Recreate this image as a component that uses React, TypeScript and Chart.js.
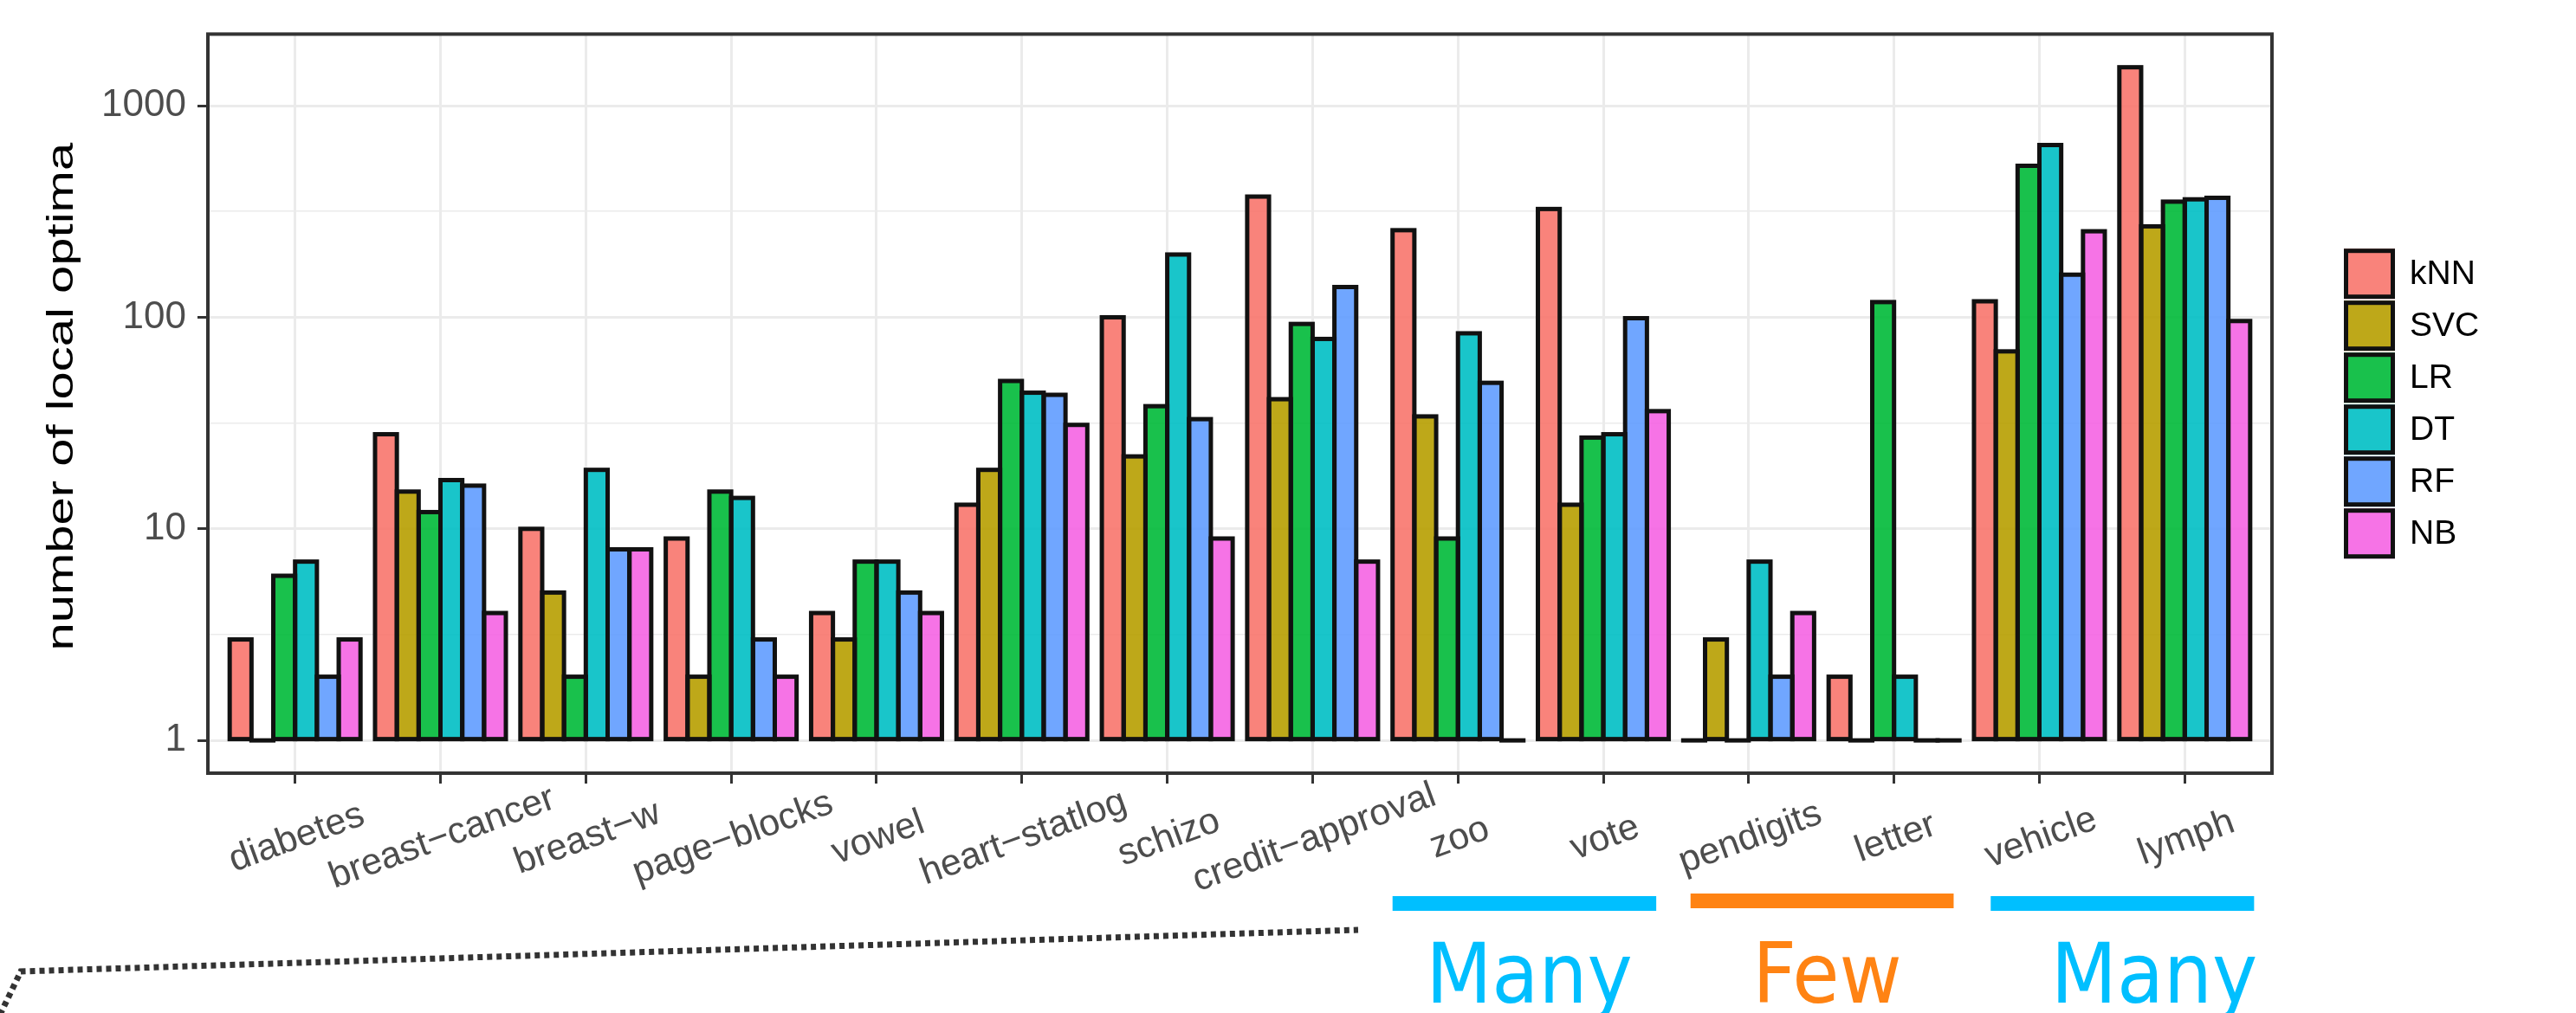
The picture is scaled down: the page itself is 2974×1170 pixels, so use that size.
import React, { useEffect, useRef } from 'react';
import { Chart, registerables } from 'chart.js';

Chart.register(...registerables);

// ---------- data ----------
const categories = [
  'diabetes', 'breast-cancer', 'breast-w', 'page-blocks', 'vowel', 'heart-statlog', 'schizo',
  'credit-approval', 'zoo', 'vote', 'pendigits', 'letter', 'vehicle', 'lymph',
];
const seriesNames = ['kNN', 'SVC', 'LR', 'DT', 'RF', 'NB'];
const kNN = [3, 28, 10, 9, 4, 13, 100, 372, 258, 325, 1, 2, 119, 1520];
const SVC = [1, 15, 5, 2, 3, 19, 22, 41, 34, 13, 3, 1, 69, 269];
const LR = [6, 12, 2, 15, 7, 50, 38, 93, 9, 27, 1, 118, 520, 352];
const DT = [7, 17, 19, 14, 7, 44, 198, 79, 84, 28, 7, 2, 652, 361];
const RF = [2, 16, 8, 3, 5, 43, 33, 139, 49, 99, 2, 1, 159, 367];
const NB = [3, 4, 8, 2, 4, 31, 9, 7, 1, 36, 4, 1, 255, 96];
const seriesValues = [kNN, SVC, LR, DT, RF, NB];
const yMajorTicks = [1, 10, 100, 1000];
const yMinorTicks = [3.1623, 31.623, 316.23];
const yAxisTitle = 'number of local optima';
const groupLabels = ['Many', 'Few', 'Many'];
const groupFrom = [7.55, 9.6, 11.665];
const groupTo = [9.364, 11.41, 13.477];
const groupCenter = [8.49, 10.54, 12.79];

// ---------- styles ----------
const palette = ['#F8766D', '#B79F00', '#00BA38', '#00BFC4', '#619CFF', '#F564E3'];
const groupColors = ['#00BFFF', '#FF8313', '#00BFFF'];
const FONT = '"Liberation Sans", Arial, Helvetica, sans-serif';
const BAR_BORDER = '#111111';
const BAR_LW = 5;

function withAlpha(hex: string, a: number) {
  const r = parseInt(hex.slice(1, 3), 16);
  const g = parseInt(hex.slice(3, 5), 16);
  const b = parseInt(hex.slice(5, 7), 16);
  return `rgba(${r},${g},${b},${a})`;
}

const decorPlugin = {
  id: 'ggDecor',
  afterDatasetsDraw(chart: any) {
    const ctx = chart.ctx as CanvasRenderingContext2D;
    ctx.save();
    ctx.strokeStyle = BAR_BORDER;
    ctx.fillStyle = BAR_BORDER;
    ctx.lineWidth = BAR_LW;
    ctx.lineJoin = 'miter';
    chart.data.datasets.forEach((_ds: any, di: number) => {
      const meta = chart.getDatasetMeta(di);
      meta.data.forEach((el: any) => {
        const p = el.getProps(['x', 'y', 'base', 'width'], true);
        const left = p.x - p.width / 2;
        const top = Math.min(p.y, p.base);
        const h = Math.abs(p.base - p.y);
        if (h < 1) {
          ctx.fillRect(left - BAR_LW / 2, p.base - BAR_LW / 2, p.width + BAR_LW, BAR_LW);
        } else {
          ctx.strokeRect(left, top, p.width, h);
        }
      });
    });
    const a = chart.chartArea;
    ctx.strokeStyle = '#333333';
    ctx.lineWidth = 4;
    ctx.strokeRect(a.left, a.top, a.right - a.left, a.bottom - a.top);
    ctx.restore();
  },
  afterDraw(chart: any) {
    const ctx = chart.ctx as CanvasRenderingContext2D;
    const a = chart.chartArea;
    const xs = chart.scales.x;
    ctx.save();

    // x category labels, rotated 20 degrees, centred under each tick
    ctx.fillStyle = '#4D4D4D';
    ctx.font = `43px ${FONT}`;
    ctx.textAlign = 'center';
    ctx.textBaseline = 'middle';
    categories.forEach((c, i) => {
      const x = xs.getPixelForValue(i);
      ctx.save();
      ctx.translate(x + 2, a.bottom + 75);
      ctx.rotate((-20 * Math.PI) / 180);
      ctx.fillText(c.replace(/-/g, '\u2212'), 0, 0);
      ctx.restore();
    });

    // y axis title
    ctx.save();
    ctx.fillStyle = '#000000';
    ctx.font = `58px ${FONT}`;
    ctx.translate(72, (a.top + a.bottom) / 2 - 8);
    ctx.rotate(-Math.PI / 2);
    ctx.scale(1, 0.74);
    ctx.textAlign = 'center';
    ctx.textBaseline = 'middle';
    ctx.fillText(yAxisTitle, 0, 0);
    ctx.restore();

    // legend
    const keyH = 60;
    const keyW = 59;
    const keyX = a.right + 83;
    const keyTop = (a.top + a.bottom) / 2 - (seriesNames.length * keyH) / 2;
    chart.data.datasets.forEach((ds: any, i: number) => {
      const y0 = keyTop + i * keyH;
      ctx.fillStyle = ds.backgroundColor;
      ctx.fillRect(keyX, y0 + 1, keyW, keyH - 2);
      ctx.strokeStyle = BAR_BORDER;
      ctx.lineWidth = BAR_LW;
      ctx.strokeRect(keyX + BAR_LW / 2, y0 + 1 + BAR_LW / 2, keyW - BAR_LW, keyH - 2 - BAR_LW);
      ctx.fillStyle = '#000000';
      ctx.font = `39px ${FONT}`;
      ctx.textAlign = 'left';
      ctx.textBaseline = 'middle';
      ctx.fillText(ds.label, keyX + 76, y0 + keyH / 2 + 1);
    });

    // group annotation bars and words
    groupLabels.forEach((g, i) => {
      const x0 = xs.getPixelForValue(groupFrom[i]);
      const x1 = xs.getPixelForValue(groupTo[i]);
      ctx.fillStyle = groupColors[i];
      const top = g === 'Few' ? 1032 : 1035;
      ctx.fillRect(x0, top, x1 - x0, 17);
      ctx.save();
      ctx.translate(xs.getPixelForValue(groupCenter[i]), 1158);
      ctx.scale(0.92, 1);
      ctx.font = '96px "DejaVu Sans", Verdana, sans-serif';
      ctx.textAlign = 'center';
      ctx.textBaseline = 'alphabetic';
      ctx.fillText(g, 0, 0);
      ctx.restore();
    });

    // dotted callout line
    ctx.strokeStyle = '#333333';
    ctx.lineWidth = 7;
    ctx.setLineDash([6, 5]);
    ctx.beginPath();
    ctx.moveTo(0, 1172);
    ctx.lineTo(24, 1122);
    ctx.lineTo(1568, 1074);
    ctx.stroke();
    ctx.setLineDash([]);

    ctx.restore();
  },
};

export default function App() {
  const ref = useRef<HTMLCanvasElement | null>(null);

  useEffect(() => {
    const canvas = ref.current;
    if (!canvas) return;
    const datasets = seriesNames.map((name, si) => ({
      label: name,
      data: categories.map((_c, i) => ({ x: i, y: seriesValues[si][i] })),
      backgroundColor: withAlpha(palette[si], 0.9),
      borderWidth: 0,
      base: 1,
      categoryPercentage: 0.9,
      barPercentage: 1.0,
    }));

    const chart = new Chart(canvas, {
      type: 'bar',
      data: { datasets },
      plugins: [decorPlugin],
      options: {
        responsive: false,
        animation: false,
        devicePixelRatio: 1,
        events: [],
        layout: { padding: { left: 0, top: 31, right: 351, bottom: 265 } },
        plugins: { legend: { display: false }, tooltip: { enabled: false }, title: { display: false } },
        scales: {
          x: {
            type: 'linear',
            min: -0.6,
            max: 13.6,
            offset: false,
            afterBuildTicks: (s: any) => {
              s.ticks = categories.map((_c, i) => ({ value: i }));
            },
            afterFit: (s: any) => {
              s.height = 12;
            },
            ticks: { display: false },
            grid: {
              offset: false,
              color: '#EBEBEB',
              lineWidth: 3,
              drawTicks: true,
              tickLength: 12,
              tickColor: '#333333',
              tickWidth: 3,
            },
            border: { display: false },
          },
          y: {
            type: 'logarithmic',
            min: 0.70,
            max: 2180,
            afterBuildTicks: (s: any) => {
              s.ticks = [...yMajorTicks, ...yMinorTicks]
                .sort((p, q) => p - q)
                .map((v) => ({ value: v }));
            },
            afterFit: (s: any) => {
              s.width = 240;
            },
            ticks: {
              autoSkip: false,
              padding: 13,
              color: '#4D4D4D',
              font: { family: FONT, size: 44 },
              callback: (v: any) => (yMajorTicks.includes(Number(v)) ? String(v) : ''),
            },
            grid: {
              color: '#EBEBEB',
              lineWidth: (c: any) => (c.tick && yMajorTicks.includes(c.tick.value) ? 3 : 1.6),
              drawTicks: true,
              tickLength: 12,
              tickWidth: 3,
              tickColor: (c: any) =>
                c.tick && yMajorTicks.includes(c.tick.value) ? '#333333' : 'rgba(0,0,0,0)',
            },
            border: { display: false },
          },
        },
      } as any,
    });
    return () => chart.destroy();
  }, []);

  return (
    <canvas
      ref={ref}
      width={2974}
      height={1170}
      style={{ position: 'fixed', left: 0, top: 0, width: 2974, height: 1170, background: '#ffffff' }}
    />
  );
}
